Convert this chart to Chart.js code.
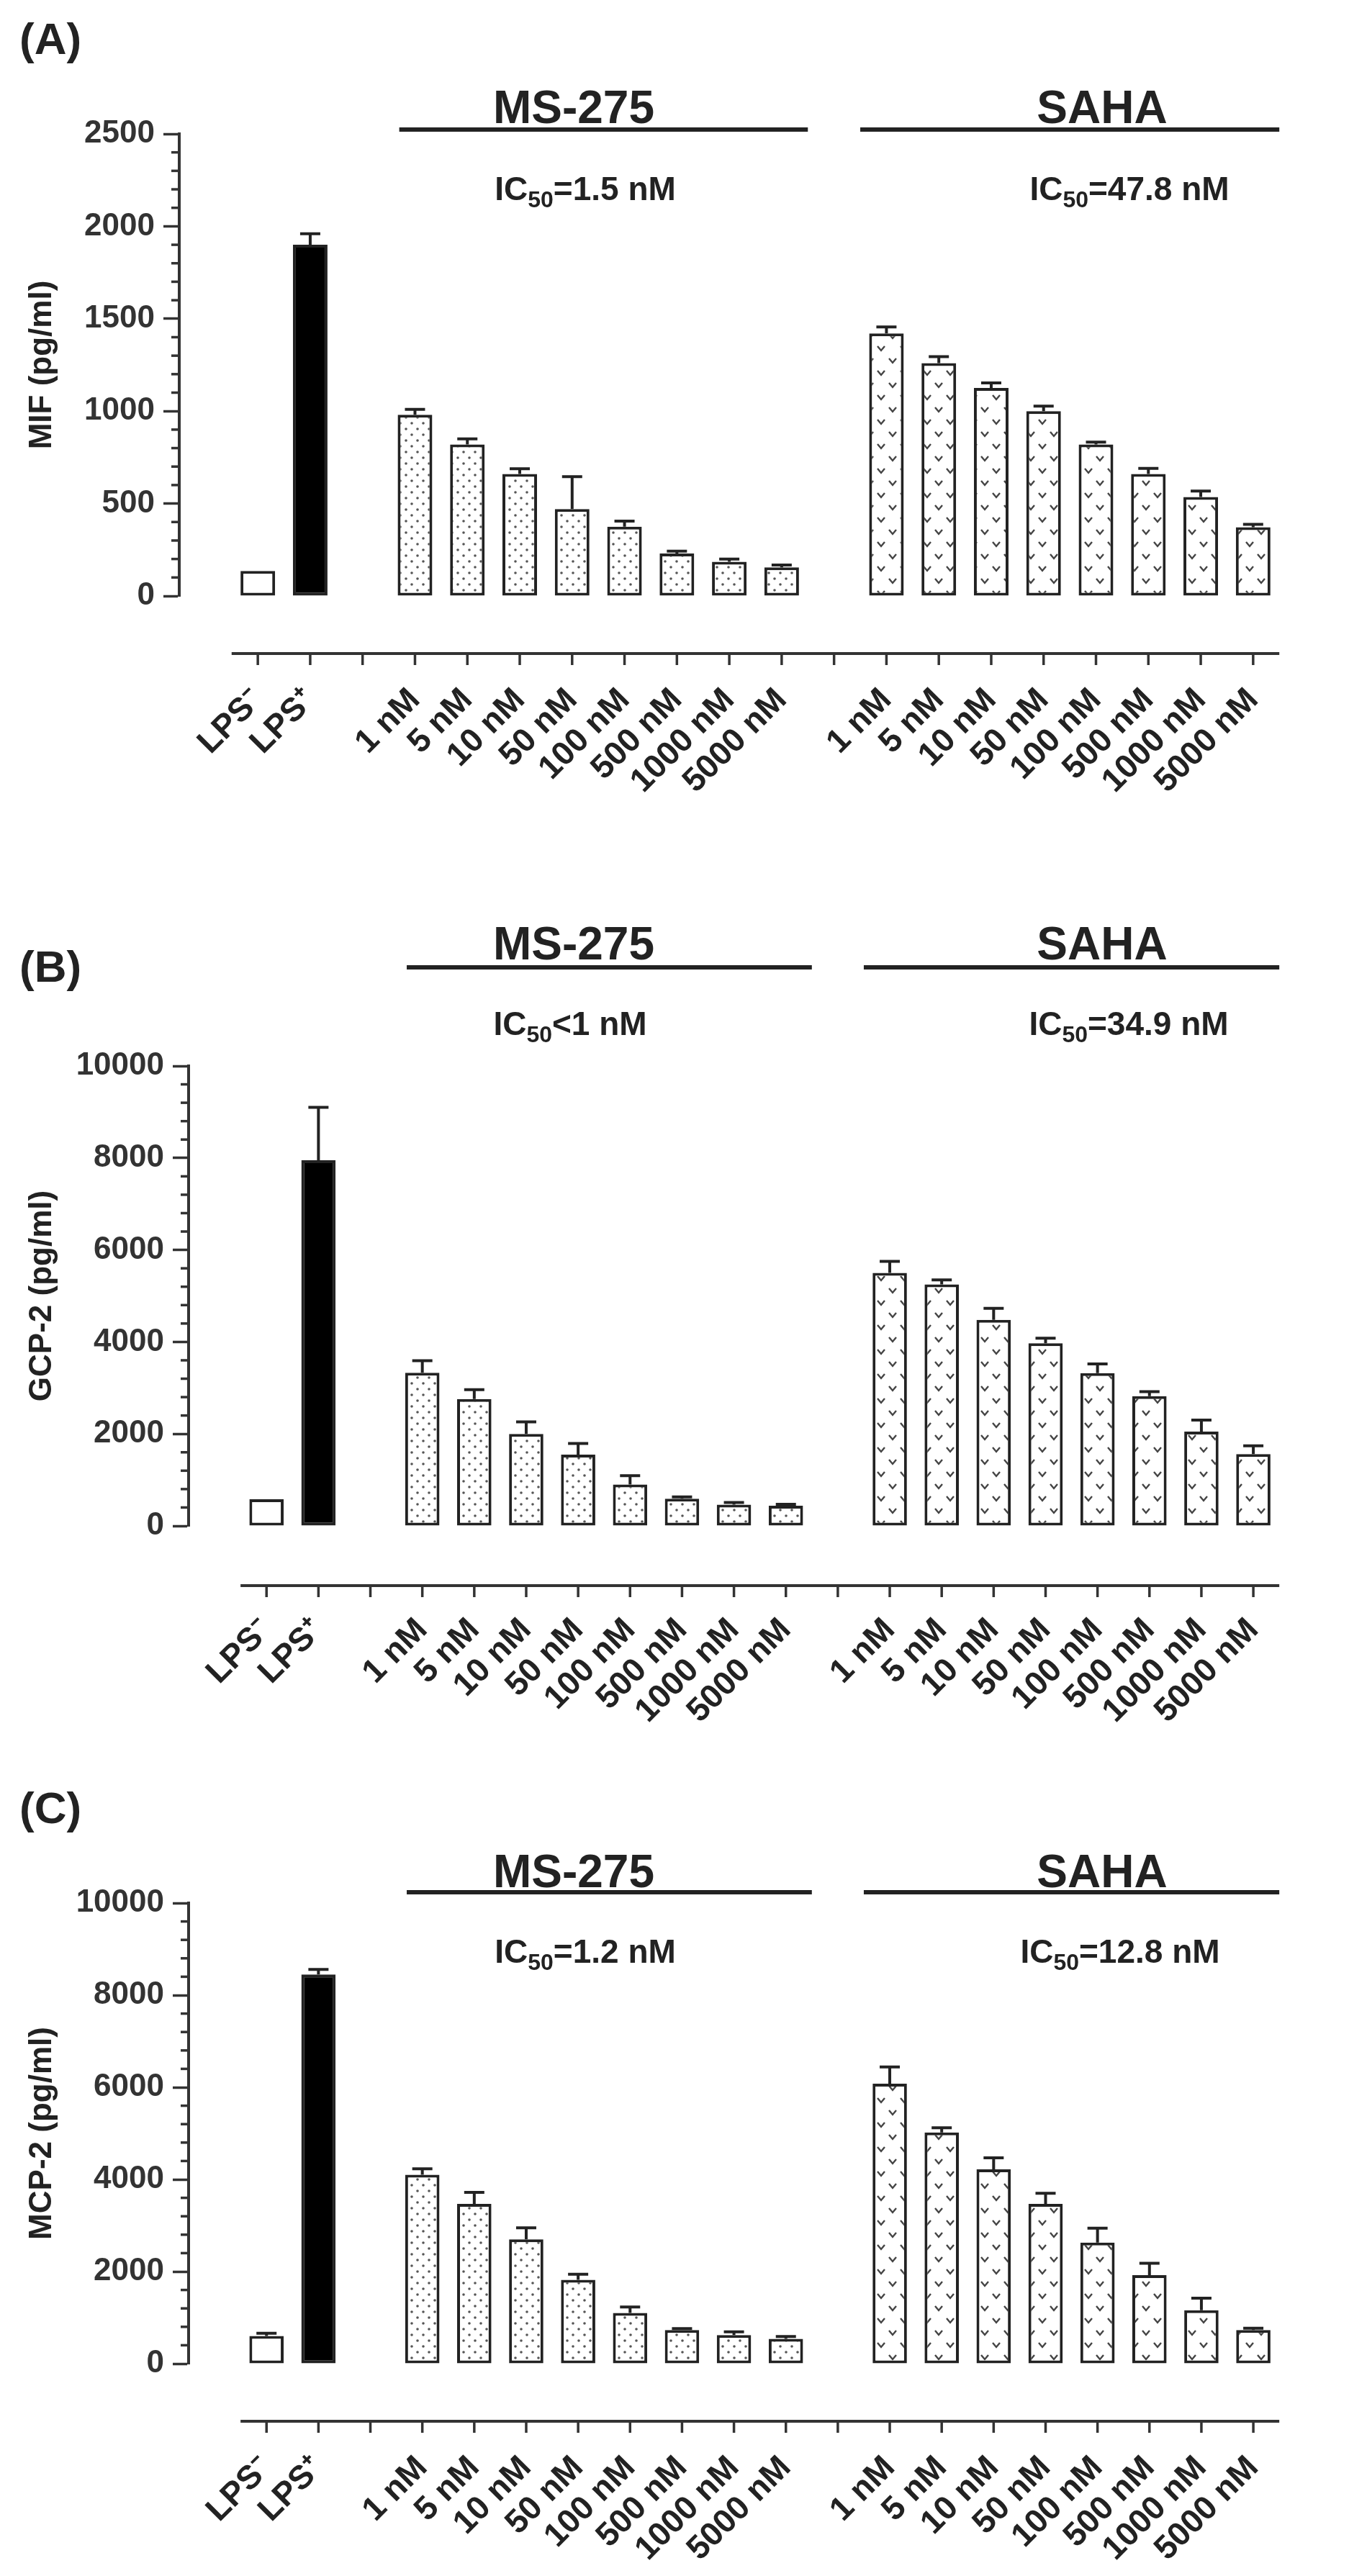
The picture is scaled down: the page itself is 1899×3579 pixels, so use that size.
<!DOCTYPE html>
<html lang="en">
<head>
<meta charset="UTF-8" />
<title>MIF, GCP-2 and MCP-2 - MS-275 vs SAHA</title>
<script src="https://cdn.jsdelivr.net/npm/chart.js@4.4.1/dist/chart.umd.min.js"></script>
<style>
  body { margin: 0; background: #fff; width: 1899px; height: 3579px; position: relative; overflow: hidden; }
  canvas { position: absolute; left: 0; }
</style>
</head>
<body>
<canvas id="chartA" width="1899" height="1190" style="top:0px"></canvas>
<canvas id="chartB" width="1899" height="1210" style="top:1190px"></canvas>
<canvas id="chartC" width="1899" height="1179" style="top:2400px"></canvas>

<script>
// ---- data ----
const lpsLabels = ['LPS\u207B', 'LPS\u207A'];
const doseLabels = ['1 nM', '5 nM', '10 nM', '50 nM', '100 nM', '500 nM', '1000 nM', '5000 nM'];

// (A) MIF
const mifLps = [135, 1900];
const mifLpsErr = [0, 60];
const mifMs = [980, 820, 660, 470, 375, 230, 185, 155];
const mifMsErr = [30, 30, 28, 175, 30, 12, 15, 12];
const mifSaha = [1420, 1260, 1125, 1000, 820, 660, 535, 372];
const mifSahaErr = [35, 35, 28, 27, 12, 30, 33, 15];

// (B) GCP-2
const gcpLps = [580, 7950];
const gcpLpsErr = [0, 1150];
const gcpMs = [3330, 2760, 2000, 1550, 900, 590, 460, 440];
const gcpMsErr = [260, 200, 260, 240, 190, 40, 50, 30];
const gcpSaha = [5500, 5250, 4480, 3970, 3320, 2820, 2050, 1560];
const gcpSahaErr = [250, 100, 250, 110, 200, 100, 250, 180];

// (C) MCP-2
const mcpLps = [600, 8450];
const mcpLpsErr = [60, 110];
const mcpMs = [4100, 3470, 2700, 1820, 1100, 730, 620, 540];
const mcpMsErr = [130, 250, 250, 120, 130, 30, 70, 50];
const mcpSaha = [6080, 5020, 4220, 3470, 2630, 1920, 1160, 730];
const mcpSahaErr = [360, 100, 250, 230, 310, 260, 260, 40];

// category slots: empty lead, LPS pair, gap, MS-275 doses, gap, SAHA doses
const categories = ['', ...lpsLabels, '', ...doseLabels, '', ...doseLabels];

const FONT = '"Liberation Sans", Arial, Helvetica, sans-serif';
const INK = '#222';

// ---- fill patterns ----
function dotPattern() {
  const c = document.createElement('canvas');
  c.width = 16; c.height = 16;
  const g = c.getContext('2d');
  g.fillStyle = '#fff'; g.fillRect(0, 0, 16, 16);
  g.fillStyle = '#555';
  [[4, 4], [12, 12]].forEach(([x, y]) => { g.beginPath(); g.arc(x, y, 1.8, 0, Math.PI * 2); g.fill(); });
  return g.createPattern(c, 'repeat');
}
function vPattern() {
  const c = document.createElement('canvas');
  c.width = 32; c.height = 34;
  const g = c.getContext('2d');
  g.fillStyle = '#fff'; g.fillRect(0, 0, 32, 34);
  g.strokeStyle = '#444'; g.lineWidth = 2.4;
  [[8, 8], [24, 25]].forEach(([x, y]) => {
    g.beginPath(); g.moveTo(x - 5, y - 3); g.lineTo(x, y + 3); g.lineTo(x + 5, y - 3); g.stroke();
  });
  return g.createPattern(c, 'repeat');
}
const DOTS = dotPattern();
const VEES = vPattern();

function buildSeries(lps, ms, saha) {
  return [null, ...lps, null, ...ms, null, ...saha];
}
function buildFills() {
  return [null, '#fff', '#000', null, ...doseLabels.map(() => DOTS), null, ...doseLabels.map(() => VEES)];
}

function drawIC(ctx, cx, base, rest) {
  const big = 'bold 46px ' + FONT, small = 'bold 32px ' + FONT;
  ctx.font = big; const w1 = ctx.measureText('IC').width; const w3 = ctx.measureText(rest).width;
  ctx.font = small; const w2 = ctx.measureText('50').width;
  let x = cx - (w1 + w2 + w3) / 2;
  ctx.textAlign = 'left'; ctx.textBaseline = 'alphabetic';
  ctx.font = big; ctx.fillText('IC', x, base); x += w1;
  ctx.font = small; ctx.fillText('50', x, base + 10); x += w2;
  ctx.font = big; ctx.fillText(rest, x, base);
}

// error bars, detached x axis, minor y ticks, headers
const decor = {
  id: 'decor',
  afterDatasetsDraw(chart) {
    const ctx = chart.ctx, ys = chart.scales.y;
    const ds = chart.data.datasets[0];
    const meta = chart.getDatasetMeta(0);
    ctx.save();
    ctx.strokeStyle = INK; ctx.lineWidth = 4;
    meta.data.forEach((bar, i) => {
      const v = ds.data[i], e = ds.errors[i];
      if (v == null || !e) return;
      const yTop = ys.getPixelForValue(v + e);
      ctx.beginPath();
      ctx.moveTo(bar.x, bar.y); ctx.lineTo(bar.x, yTop);
      ctx.moveTo(bar.x - 14, yTop); ctx.lineTo(bar.x + 14, yTop);
      ctx.stroke();
    });
    ctx.restore();
  },
  afterDraw(chart, args, o) {
    const ctx = chart.ctx, xs = chart.scales.x, ys = chart.scales.y, area = chart.chartArea;
    const slot = xs.getPixelForValue(1) - xs.getPixelForValue(0);
    ctx.save();
    ctx.strokeStyle = '#333'; ctx.fillStyle = INK;

    // minor ticks on y
    ctx.lineWidth = 3.5;
    for (let v = 0; v <= ys.max; v += o.minor) {
      if (v % o.major === 0) continue;
      const y = ys.getPixelForValue(v);
      ctx.beginPath(); ctx.moveTo(area.left - 11, y); ctx.lineTo(area.left, y); ctx.stroke();
    }

    // detached x axis
    const yAx = area.bottom + o.axisGap;
    ctx.lineWidth = 4;
    ctx.beginPath(); ctx.moveTo(xs.getPixelForValue(1) - slot / 2, yAx); ctx.lineTo(area.right, yAx); ctx.stroke();
    ctx.lineWidth = 3.5;
    for (let i = 1; i < categories.length; i++) {
      const x = xs.getPixelForValue(i);
      ctx.beginPath(); ctx.moveTo(x, yAx); ctx.lineTo(x, yAx + 16); ctx.stroke();
    }

    // group lines
    ctx.lineWidth = 6; ctx.strokeStyle = INK;
    const msL = xs.getPixelForValue(4) - slot * 0.3, msR = xs.getPixelForValue(11) + slot / 2;
    const saL = xs.getPixelForValue(13) - slot / 2, saR = xs.getPixelForValue(20) + slot / 2;
    ctx.beginPath(); ctx.moveTo(msL, o.lineY); ctx.lineTo(msR, o.lineY); ctx.stroke();
    ctx.beginPath(); ctx.moveTo(saL, o.lineY); ctx.lineTo(saR, o.lineY); ctx.stroke();

    // headers
    ctx.textAlign = 'center'; ctx.textBaseline = 'alphabetic';
    ctx.font = 'bold 64px ' + FONT;
    ctx.fillText('MS-275', o.msX, o.headY);
    ctx.fillText('SAHA', o.sahaX, o.headY);
    drawIC(ctx, o.msIcX, o.icY, o.msIc);
    drawIC(ctx, o.sahaIcX, o.icY, o.sahaIc);

    ctx.textAlign = 'left';
    ctx.font = 'bold 62px ' + FONT;
    ctx.fillText(o.tag, 27, o.tagY);
    ctx.restore();
  }
};

function makeChart(id, cfg) {
  return new Chart(document.getElementById(id), {
    type: 'bar',
    data: {
      labels: categories,
      datasets: [{
        data: buildSeries(cfg.lps, cfg.ms, cfg.saha),
        errors: buildSeries(cfg.lpsErr, cfg.msErr, cfg.sahaErr),
        backgroundColor: buildFills(),
        borderColor: INK,
        borderWidth: 4,
        borderSkipped: false,
        categoryPercentage: 1,
        barPercentage: 0.66
      }]
    },
    options: {
      responsive: false,
      animation: false,
      devicePixelRatio: 1,
      layout: { padding: { top: cfg.top, left: 0, right: cfg.right, bottom: 0 } },
      plugins: {
        legend: { display: false },
        tooltip: { enabled: false },
        decor: cfg.decor
      },
      scales: {
        x: {
          grid: { display: false, drawTicks: false },
          border: { display: false },
          ticks: {
            autoSkip: false, minRotation: 45, maxRotation: 45, padding: 118,
            color: INK, font: { family: FONT, size: 46, weight: 'bold' }
          },
          afterFit: s => { s.height = cfg.xH; }
        },
        y: {
          min: 0, max: cfg.max,
          ticks: {
            stepSize: cfg.step, padding: 12, color: '#333',
            font: { family: FONT, size: 44, weight: 'bold' },
            callback: v => String(v)
          },
          grid: { drawOnChartArea: false, tickLength: 22, tickWidth: 3.5, tickColor: '#333' },
          border: { color: '#333', width: 4 },
          title: {
            display: true, text: cfg.title, color: INK,
            font: { family: FONT, size: 44, weight: 'bold' },
            padding: { top: 32, bottom: 0 }
          },
          afterFit: s => { s.width = cfg.yW; }
        }
      }
    },
    plugins: [decor]
  });
}

makeChart('chartA', {
  lps: mifLps, lpsErr: mifLpsErr, ms: mifMs, msErr: mifMsErr, saha: mifSaha, sahaErr: mifSahaErr,
  title: 'MIF (pg/ml)', max: 2500, step: 500, top: 186, right: 48, yW: 249, xH: 362,
  decor: { tag: '(A)', tagY: 75, headY: 171, lineY: 180, icY: 278, msX: 797, sahaX: 1531,
           msIcX: 813, sahaIcX: 1569, msIc: '=1.5 nM', sahaIc: '=47.8 nM', major: 500, minor: 100, axisGap: 80 }
});

makeChart('chartB', {
  lps: gcpLps, lpsErr: gcpLpsErr, ms: gcpMs, msErr: gcpMsErr, saha: gcpSaha, sahaErr: gcpSahaErr,
  title: 'GCP-2 (pg/ml)', max: 10000, step: 2000, top: 291, right: 37, yW: 262, xH: 280,
  decor: { tag: '(B)', tagY: 174, headY: 143, lineY: 154, icY: 248, msX: 797, sahaX: 1531,
           msIcX: 792, sahaIcX: 1568, msIc: '<1 nM', sahaIc: '=34.9 nM', major: 2000, minor: 400, axisGap: 83 }
});

makeChart('chartC', {
  lps: mcpLps, lpsErr: mcpLpsErr, ms: mcpMs, msErr: mcpMsErr, saha: mcpSaha, sahaErr: mcpSahaErr,
  title: 'MCP-2 (pg/ml)', max: 10000, step: 2000, top: 244, right: 37, yW: 262, xH: 295,
  decor: { tag: '(C)', tagY: 133, headY: 222, lineY: 229, icY: 327, msX: 797, sahaX: 1531,
           msIcX: 813, sahaIcX: 1556, msIc: '=1.2 nM', sahaIc: '=12.8 nM', major: 2000, minor: 400, axisGap: 80 }
});
</script>
</body>
</html>
